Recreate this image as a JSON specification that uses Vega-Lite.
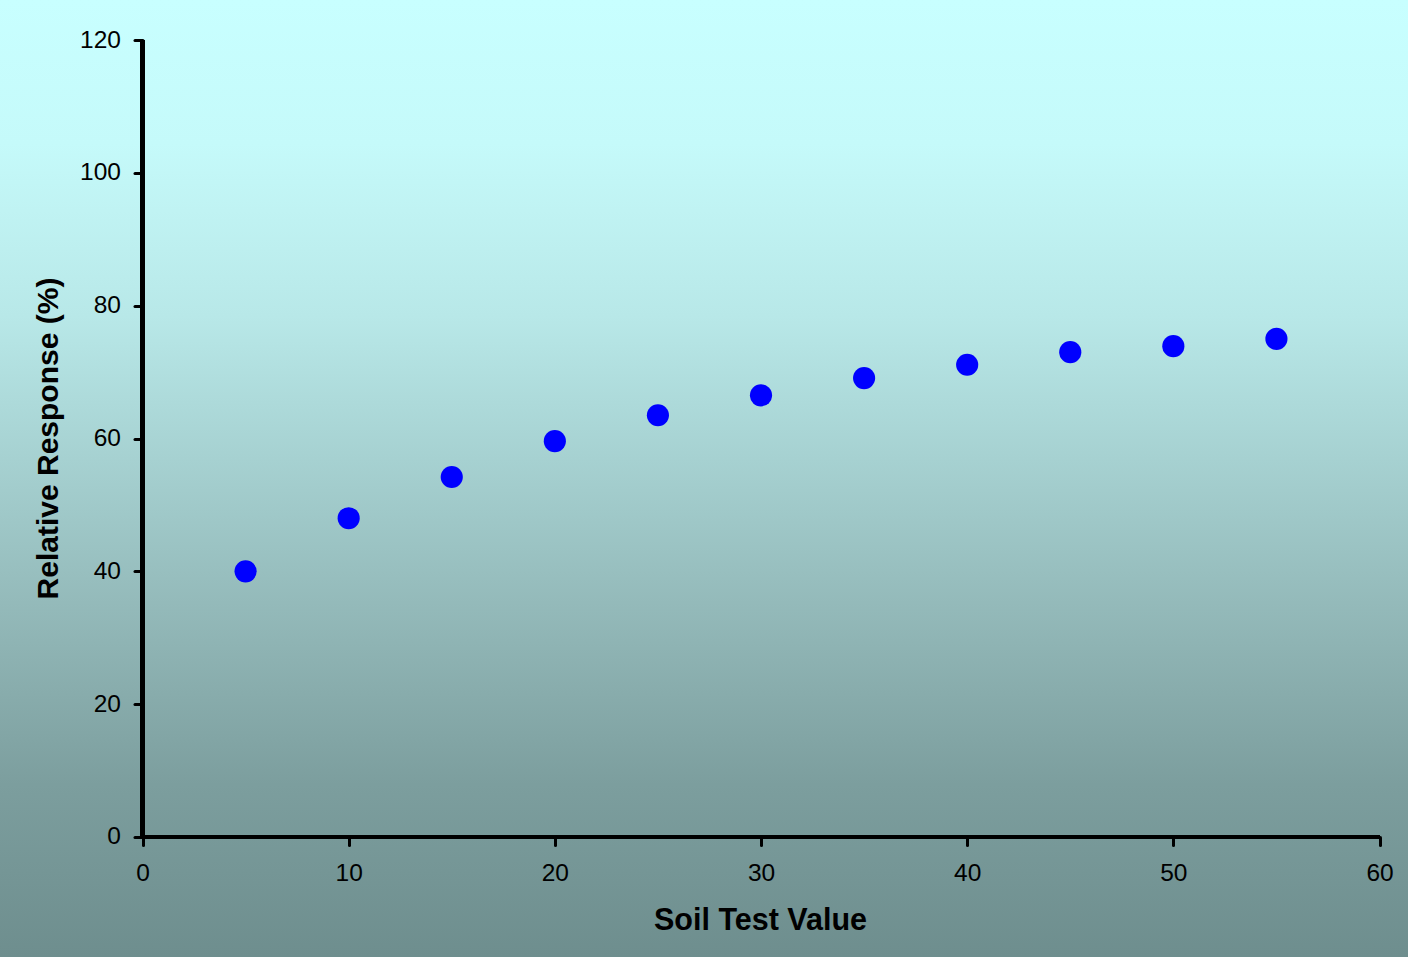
{
  "$schema": "https://vega.github.io/schema/vega-lite/v6.json",
  "width": 1408,
  "height": 957,
  "autosize": "none",
  "padding": 0,
  "background": "#C8FFFF",
  "config": {
    "view": {
      "stroke": null,
      "fill": {
        "gradient": "linear",
        "x1": 0, "y1": 0, "x2": 0, "y2": 1,
        "stops": [
          {"offset": 0, "color": "#C8FFFF"},
          {"offset": 0.15, "color": "#C5FAFA"},
          {"offset": 0.33, "color": "#B8E8E8"},
          {"offset": 0.63, "color": "#94BABA"},
          {"offset": 0.82, "color": "#7C9E9E"},
          {"offset": 1, "color": "#6E8E8E"}
        ]
      }
    },
    "axis": {
      "labelFont": "Liberation Sans",
      "titleFont": "Liberation Sans",
      "labelColor": "#000000",
      "titleColor": "#000000",
      "tickColor": "#000000",
      "domain": false,
      "grid": false
    }
  },
  "data": {
    "values": [
      {"soil": 5, "response": 40.0},
      {"soil": 10, "response": 48.0},
      {"soil": 15, "response": 54.2},
      {"soil": 20, "response": 59.6},
      {"soil": 25, "response": 63.5},
      {"soil": 30, "response": 66.5},
      {"soil": 35, "response": 69.1},
      {"soil": 40, "response": 71.1},
      {"soil": 45, "response": 73.0},
      {"soil": 50, "response": 73.9},
      {"soil": 55, "response": 75.0}
    ]
  },
  "layer": [
    {
      "mark": {"type": "rule", "color": "#000000", "strokeWidth": 4},
      "encoding": {
        "x": {"datum": 0, "type": "quantitative"},
        "x2": {"datum": 60},
        "y": {"datum": 0, "type": "quantitative"}
      }
    },
    {
      "mark": {"type": "rule", "color": "#000000", "strokeWidth": 4},
      "encoding": {
        "x": {"datum": 0, "type": "quantitative"},
        "y": {"datum": 0, "type": "quantitative"},
        "y2": {"datum": 120}
      }
    },
    {
      "mark": {"type": "point", "filled": true, "shape": "circle", "size": 490, "color": "#0000FF", "opacity": 1},
      "encoding": {
        "x": {
          "field": "soil",
          "type": "quantitative",
          "scale": {"domain": [-6.912, 61.382], "nice": false, "zero": false},
          "axis": {
            "orient": "bottom",
            "offset": -120,
            "values": [0, 10, 20, 30, 40, 50, 60],
            "tickSize": 8,
            "tickWidth": 3,
            "tickCap": "round",
            "labelFontSize": 24.5,
            "labelPadding": 16,
            "title": "Soil Test Value",
            "titleFontSize": 30.5,
            "titleFontWeight": "bold",
            "titlePadding": 21,
            "titleX": 760
          }
        },
        "y": {
          "field": "response",
          "type": "quantitative",
          "scale": {"domain": [-18.068, 126.023], "nice": false, "zero": false},
          "axis": {
            "orient": "left",
            "offset": -142.5,
            "values": [0, 20, 40, 60, 80, 100, 120],
            "tickSize": 8,
            "tickWidth": 3,
            "tickCap": "round",
            "labelFontSize": 24.5,
            "labelPadding": 14,
            "title": "Relative Response (%)",
            "titleFontSize": 30,
            "titleFontWeight": "bold",
            "titlePadding": 16,
            "titleY": 438
          }
        }
      }
    }
  ]
}
